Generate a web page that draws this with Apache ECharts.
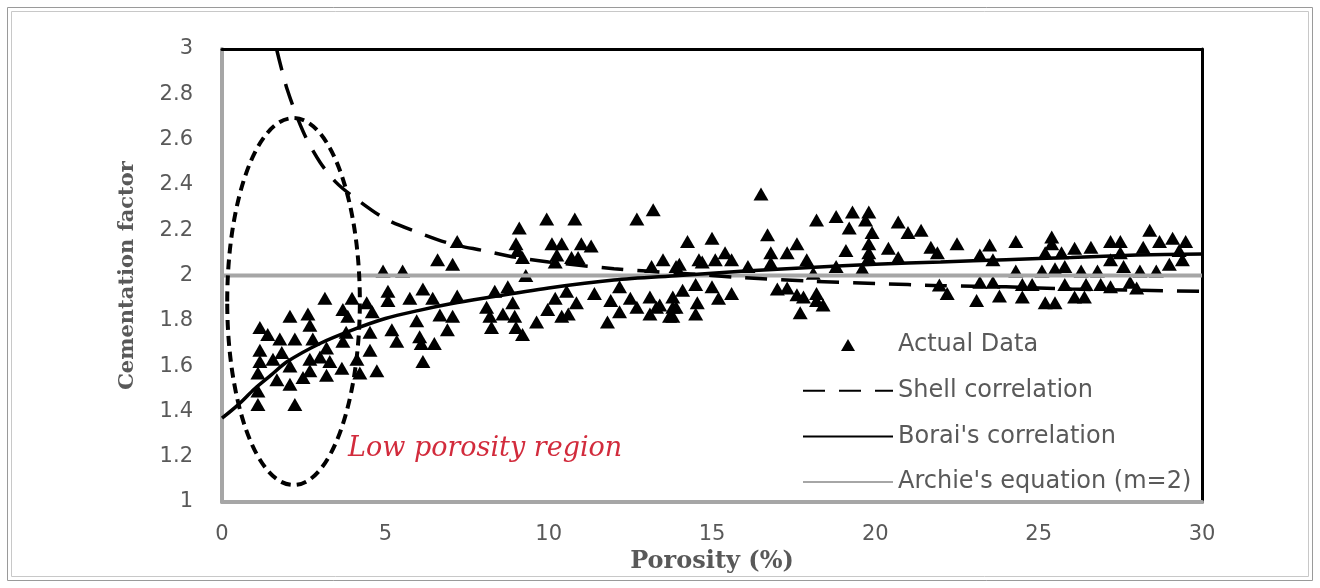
<!DOCTYPE html>
<html>
<head>
<meta charset="utf-8">
<script src="https://cdn.jsdelivr.net/npm/echarts@6/dist/echarts.min.js"></script>
<style>
html,body{margin:0;padding:0;background:#fff;}
#chart{width:1320px;height:588px;}
</style>
</head>
<body>
<div id="chart"></div>
<script>
// ---- Data ----
const xTicks = [0, 5, 10, 15, 20, 25, 30];
const yTicks = [1, 1.2, 1.4, 1.6, 1.8, 2, 2.2, 2.4, 2.6, 2.8, 3];

const actualData = [
  [1.1,1.57],[1.1,1.49],[1.1,1.43],[1.16,1.77],[1.16,1.67],[1.16,1.62],[1.4,1.74],[1.56,1.63],
  [1.68,1.54],[1.77,1.72],[1.83,1.66],[2.08,1.82],[2.08,1.60],[2.08,1.52],[2.23,1.72],[2.23,1.43],
  [2.48,1.55],[2.63,1.83],[2.69,1.78],[2.69,1.63],[2.69,1.58],[2.78,1.72],[3.0,1.64],[3.15,1.90],
  [3.2,1.68],[3.2,1.56],[3.3,1.62],[3.67,1.59],[3.7,1.85],[3.7,1.71],[3.8,1.75],[3.85,1.82],
  [3.98,1.90],[4.13,1.63],[4.22,1.57],[4.43,1.88],[4.53,1.75],[4.53,1.67],[4.6,1.84],[4.74,1.58],
  [4.93,2.02],[5.08,1.93],[5.08,1.89],[5.2,1.76],[5.35,1.71],[5.53,2.02],[5.75,1.90],[5.96,1.80],
  [6.05,1.73],[6.15,1.94],[6.15,1.62],[6.1,1.70],[6.45,1.90],[6.5,1.70],[6.6,2.07],[6.67,1.826],
  [6.9,1.76],[7.06,2.05],[7.06,1.82],[7.2,2.15],[7.2,1.91],
  [9.1,2.21],[9.0,2.14],[9.05,2.11],[9.2,2.08],[9.3,2.0],[9.94,2.25],[10.8,2.25],[10.1,2.14],
  [10.4,2.14],[10.25,2.09],[10.2,2.06],[10.7,2.08],[10.9,2.08],[11.0,2.14],[11.3,2.13],[12.7,2.25],
  [13.2,2.29],[13.15,2.04],[13.5,2.07],[14.0,2.05],[14.25,2.15],[14.6,2.07],
  [8.1,1.86],[8.35,1.93],[8.75,1.95],[8.2,1.82],[8.25,1.77],[8.6,1.83],[8.9,1.88],[8.96,1.82],
  [9.0,1.77],[9.2,1.74],[9.63,1.795],[10.2,1.90],[9.97,1.85],[10.55,1.93],[10.85,1.88],[10.6,1.83],
  [10.4,1.82],[11.4,1.92],[12.17,1.95],[11.9,1.89],[12.5,1.90],[12.17,1.84],[11.8,1.795],[12.7,1.86],
  [13.1,1.905],[13.4,1.87],[13.1,1.83],[13.8,1.905],[14.1,1.935],[13.9,1.86],[13.7,1.82],[14.5,1.96],
  [14.5,1.83],[13.3,1.86],[13.8,1.86],[13.8,1.82],[13.9,2.04],
  [14.7,2.06],[15.1,2.07],[15.4,2.10],[15.6,2.07],[16.1,2.04],[16.8,2.10],[16.8,2.055],[17.3,2.10],
  [17.9,2.07],[18.8,2.04],[19.6,2.03],[18.1,2.01],
  [16.5,2.36],[15.0,2.165],[16.7,2.18],[17.6,2.14],[18.2,2.245],[18.8,2.26],[19.3,2.28],[19.8,2.28],
  [19.7,2.245],[19.2,2.21],[19.9,2.19],[20.7,2.236],[21.0,2.19],[21.4,2.20],[19.1,2.11],[19.8,2.14],
  [19.8,2.10],[19.8,2.08],[20.4,2.12],[20.7,2.08],[21.7,2.125],[21.9,2.10],[22.5,2.14],
  [15.0,1.95],[14.55,1.88],[15.2,1.90],[15.6,1.92],[17.3,1.945],[17.6,1.915],[18.2,1.92],[18.2,1.89],
  [18.4,1.87],[17.7,1.835],[21.96,1.958],[22.2,1.92],[17.0,1.94],[17.8,1.905],
  [23.5,2.135],[24.3,2.15],[25.4,2.17],[25.4,2.14],[26.1,2.12],[26.6,2.125],[27.2,2.15],[27.5,2.15],
  [28.4,2.20],[28.2,2.125],[28.7,2.15],[29.1,2.165],[29.5,2.15],
  [23.2,2.09],[23.6,2.07],[25.2,2.10],[25.7,2.10],[27.2,2.07],[27.5,2.10],[29.3,2.11],[29.4,2.07],
  [24.3,2.02],[25.1,2.02],[25.5,2.03],[25.8,2.04],[26.3,2.02],[26.8,2.02],[27.6,2.04],[28.1,2.02],
  [28.6,2.02],[29.0,2.05],
  [23.2,1.97],[23.6,1.97],[23.1,1.89],[23.8,1.91],[24.5,1.96],[24.5,1.905],[24.8,1.96],[25.2,1.88],
  [25.5,1.88],[25.8,1.96],[26.1,1.905],[26.4,1.905],[26.45,1.96],[26.9,1.96],[27.2,1.95],[27.8,1.97],
  [28.0,1.945]
];

const shellX = [1.67, 2, 2.5, 3, 3.5, 4, 5, 6, 7, 8, 9, 10, 12, 14, 16, 18, 20, 22, 24, 26, 28, 30];
const shellY = [3.0, 2.82, 2.63, 2.50, 2.41, 2.35, 2.25, 2.19, 2.14, 2.11, 2.08, 2.06, 2.03, 2.01, 1.99, 1.975, 1.965, 1.955, 1.95, 1.94, 1.935, 1.93];

const boraiX = [0, 0.5, 1, 1.5, 2, 3, 4, 5, 6, 7, 8, 10, 12, 14, 16, 18, 20, 22, 24, 26, 28, 30];
const boraiY = [1.37, 1.43, 1.50, 1.56, 1.62, 1.70, 1.76, 1.81, 1.845, 1.875, 1.90, 1.945, 1.98, 2.0, 2.02, 2.035, 2.05, 2.06, 2.07, 2.08, 2.09, 2.095];

const archieX = [0, 30];
const archieY = [2, 2];

// Low porosity region ellipse: [centre x, centre y, radius x, radius y] in data units
const lowPorosityRegion = [2.19, 1.885, 2.03, 0.81];

const seriesNames = ['Actual Data', 'Shell correlation', "Borai's correlation", "Archie's equation (m=2)"];

// ---- Chart ----
const zip = (xs, ys) => xs.map((x, i) => [x, ys[i]]);
const chart = echarts.init(document.getElementById('chart'), null, {renderer: 'canvas'});
const labelColor = '#595959';
const hideSym = {color: 'rgba(0,0,0,0)', borderWidth: 0};

const option = {
  backgroundColor: '#ffffff',
  animation: false,
  grid: {left: 222, right: 118, top: 49, bottom: 86, containLabel: false},
  xAxis: [{
    type: 'value', min: 0, max: 30, interval: 5,
    axisLine: {show: true, onZero: false, lineStyle: {color: '#a6a6a6', width: 4}},
    axisTick: {show: false}, splitLine: {show: false},
    axisLabel: {color: labelColor, fontSize: 21, margin: 22, fontFamily: 'DejaVu Sans'},
    name: 'Porosity (%)', nameLocation: 'middle', nameGap: 42,
    nameTextStyle: {color: labelColor, fontFamily: 'DejaVu Serif', fontWeight: 'bold', fontSize: 24}
  }, {
    type: 'value', min: 0, max: 30, position: 'top',
    axisLine: {show: true, onZero: false, lineStyle: {color: '#000', width: 3}},
    axisTick: {show: false}, axisLabel: {show: false}, splitLine: {show: false}
  }],
  yAxis: [{
    type: 'value', min: 1, max: 3, interval: 0.2,
    axisLine: {show: true, onZero: false, lineStyle: {color: '#a6a6a6', width: 4}},
    axisTick: {show: false}, splitLine: {show: false},
    axisLabel: {color: labelColor, fontSize: 21, margin: 29, fontFamily: 'DejaVu Sans'},
    name: 'Cementation factor', nameLocation: 'middle', nameGap: 84, nameRotate: 90,
    nameTextStyle: {color: labelColor, fontFamily: 'DejaVu Serif', fontWeight: 'bold', fontSize: 21}
  }, {
    type: 'value', min: 1, max: 3, position: 'right',
    axisLine: {show: true, onZero: false, lineStyle: {color: '#000', width: 3}},
    axisTick: {show: false}, axisLabel: {show: false}, splitLine: {show: false}
  }],
  legend: {
    data: [
      {name: seriesNames[0], icon: 'path://M7,0 L14,12 L0,12 Z'},
      {name: seriesNames[1], itemStyle: hideSym},
      {name: seriesNames[2], itemStyle: hideSym},
      {name: seriesNames[3], itemStyle: hideSym}
    ],
    orient: 'vertical', left: 797, top: 328,
    itemWidth: 90, itemHeight: 12, itemGap: 21.7, symbolKeepAspect: true,
    textStyle: {color: labelColor, fontSize: 24, lineHeight: 24, fontFamily: 'DejaVu Sans'},
    selectedMode: false
  },
  series: [
    {
      name: seriesNames[0], type: 'scatter', data: actualData,
      symbol: 'triangle', symbolSize: [15, 13],
      itemStyle: {color: '#000', opacity: 1}, z: 2
    },
    {
      name: seriesNames[3], type: 'line', data: zip(archieX, archieY),
      showSymbol: false, symbol: 'none',
      lineStyle: {color: '#a6a6a6', width: 4}, itemStyle: {color: '#a6a6a6'}, z: 3
    },
    {
      name: seriesNames[1], type: 'line', data: zip(shellX, shellY), smooth: 0.3,
      showSymbol: false, symbol: 'none',
      lineStyle: {color: '#000', width: 3.5, type: [22, 14]}, itemStyle: {color: '#000'}, z: 4
    },
    {
      name: seriesNames[2], type: 'line', data: zip(boraiX, boraiY), smooth: 0.3,
      showSymbol: false, symbol: 'none',
      lineStyle: {color: '#000', width: 3.5}, itemStyle: {color: '#000'}, z: 4
    },
    {
      name: 'region', type: 'custom', data: [lowPorosityRegion], z: 5,
      encode: {x: 0, y: 1},
      renderItem: function (params, api) {
        const c = api.coord([api.value(0), api.value(1)]);
        const s = api.size([api.value(2), api.value(3)]);
        return {
          type: 'ellipse',
          shape: {cx: c[0], cy: c[1], rx: s[0], ry: s[1]},
          style: {fill: 'none', stroke: '#000', lineWidth: 4, lineDash: [10, 6]}
        };
      }
    }
  ],
  graphic: [
    {type: 'rect', shape: {x: 7.5, y: 7.5, width: 1305, height: 573}, style: {fill: 'none', stroke: '#9a9a9a', lineWidth: 1}, silent: true},
    {type: 'rect', shape: {x: 11.5, y: 11.5, width: 1297, height: 565}, style: {fill: 'none', stroke: '#c8c8c8', lineWidth: 1}, silent: true},
    {type: 'text', left: 348, top: 435, style: {text: 'Low porosity region', fill: '#d22b3c', font: 'italic 27px "DejaVu Serif"'}, z: 10}
  ]
};
chart.setOption(option);
</script>
</body>
</html>
